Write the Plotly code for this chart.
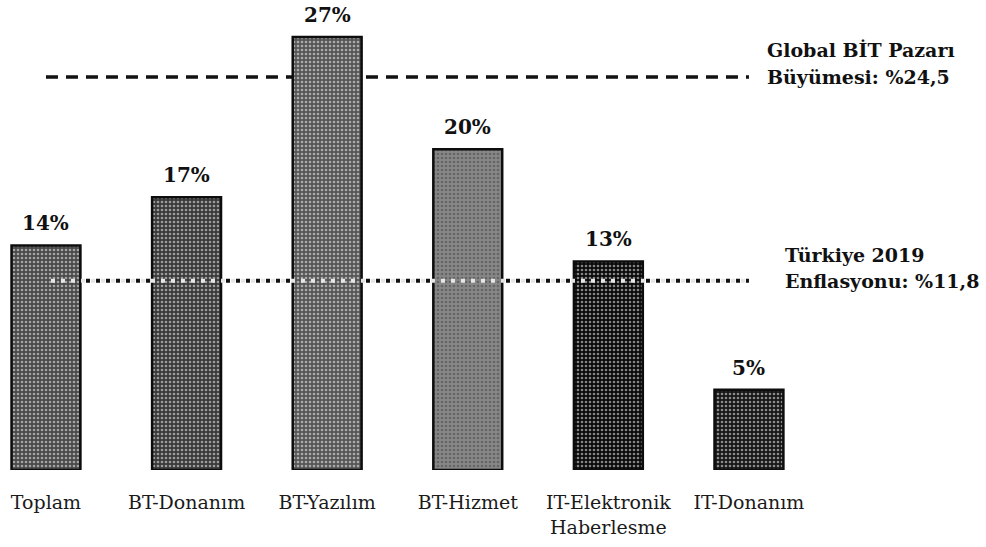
import plotly.graph_objects as go

categories = ["Toplam", "BT-Donanım", "BT-Yazılım", "BT-Hizmet", "IT-Elektronik<br>Haberlesme", "IT-Donanım"]
growth = [14, 17, 27, 20, 13, 5]
value_labels = ["14%", "17%", "27%", "20%", "13%", "5%"]
global_growth = 24.5
global_label = ["Global BİT Pazarı", "Büyümesi: %24,5"]
inflation = 11.8
inflation_label = ["Türkiye 2019", "Enflasyonu: %11,8"]

# styles
bar_bg = ["#4a4a4a", "#3a3a3a", "#565656", "#878787", "#0a0a0a", "#161616"]
bar_fg = ["#a0a0a0", "#909090", "#a8a8a8", "#d0d0d0", "#2e2e2e", "#606060"]
serif = "DejaVu Serif"
ink = "#111111"

x_pos = list(range(len(categories)))

fig = go.Figure()
fig.add_trace(go.Bar(
    x=x_pos, y=growth, width=0.49,
    marker=dict(
        color=bar_bg,
        line=dict(color="#0d0d0d", width=2.5),
        pattern=dict(shape=".", fgcolor=bar_fg, size=4, solidity=0.35, fillmode="overlay"),
    ),
    hoverinfo="skip",
))

# value labels above bars
for xi, v, t in zip(x_pos, growth, value_labels):
    fig.add_annotation(x=xi, y=v, text=f"<b>{t}</b>", showarrow=False,
                       yanchor="bottom", yshift=8,
                       font=dict(family=serif, size=20, color=ink))

x_first, x_last = x_pos[0], x_pos[-1]

# Global growth dashed reference line (behind bars)
fig.add_shape(type="line", xref="x", yref="y", x0=x_first, x1=x_last,
              y0=global_growth, y1=global_growth, layer="below",
              line=dict(color=ink, width=3.5, dash="12px,8px"))

# Inflation dotted line: black dots behind bars, light dots across bars
fig.add_shape(type="line", xref="x", yref="y", x0=x_first, x1=x_last,
              y0=inflation, y1=inflation, layer="below",
              line=dict(color=ink, width=4, dash="4px,6px"))
fig.add_shape(type="line", xref="x", yref="y", x0=x_first + 5 / 140.6, x1=x_last,
              y0=inflation, y1=inflation, layer="above",
              line=dict(color="#e6e6e6", width=4, dash="4px,6px"))

# right-side labels
for i, line in enumerate(global_label):
    fig.add_annotation(xref="paper", yref="y", x=0.776, y=global_growth,
                       xanchor="left", yanchor="middle", yshift=27 * (len(global_label) - 1 - i),
                       text=f"<b>{line}</b>", showarrow=False,
                       font=dict(family=serif, size=19, color=ink))
for i, line in enumerate(inflation_label):
    fig.add_annotation(xref="paper", yref="y", x=0.794, y=inflation,
                       xanchor="left", yanchor="middle", yshift=26 * (len(inflation_label) - 1 - i),
                       text=f"<b>{line}</b>", showarrow=False,
                       font=dict(family=serif, size=19, color=ink))

fig.update_layout(
    width=986, height=547,
    margin=dict(l=0, r=0, t=0, b=77),
    paper_bgcolor="white", plot_bgcolor="white",
    showlegend=False,
    xaxis=dict(range=[-0.327, 6.686], tickvals=x_pos, ticktext=categories,
               showgrid=False, zeroline=False, showline=False,
               ticks="outside", ticklen=15, tickcolor="rgba(0,0,0,0)",
               tickfont=dict(family=serif, size=19, color="#1a1a1a")),
    yaxis=dict(range=[0, 29.3], visible=False, showgrid=False, zeroline=False),
)

fig.write_html("out.html", config={"displayModeBar": False},
               post_script="document.body.style.margin='0';document.body.style.overflow='hidden';")
